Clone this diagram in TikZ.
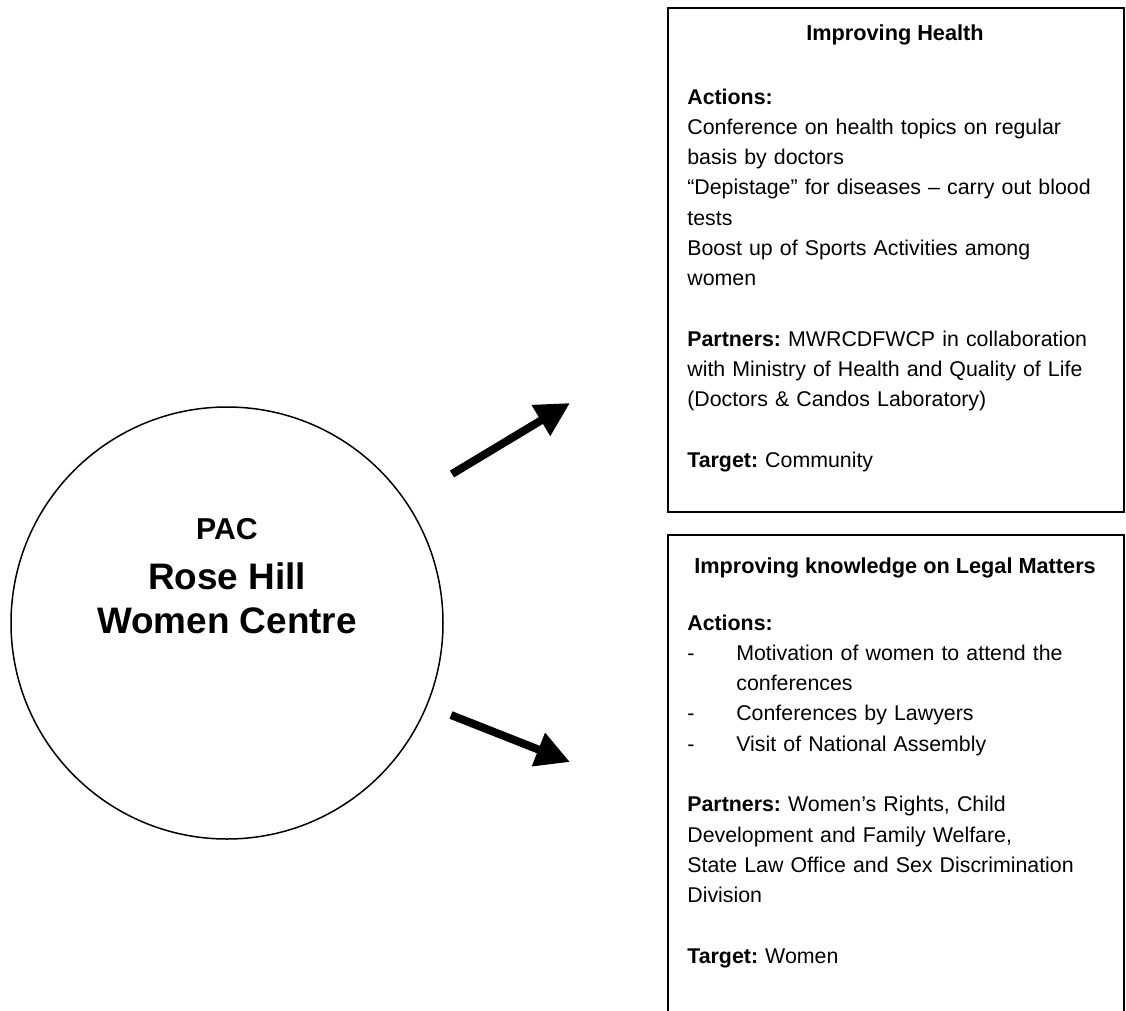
\documentclass[tikz,border=0pt]{standalone}
\usepackage{fontspec}
\setmainfont{Liberation Sans}
\usetikzlibrary{arrows.meta,positioning}

\frenchspacing
\newcommand\bodyfont{\fontsize{12.15pt}{17.24pt}\selectfont}

\begin{document}
\begin{tikzpicture}[x=0.02cm,y=-0.02cm,
    frame/.style={draw,line width=0.04cm,rectangle,inner sep=0pt,anchor=north west},
    body/.style={anchor=base west,inner sep=0pt,align=left,text width=9cm,font=\bodyfont},
    heading/.style={anchor=base,inner sep=0pt,font=\fontsize{12.35pt}{17.24pt}\selectfont\bfseries},
    bigtext/.style={anchor=base,inner sep=0pt,font=\bfseries\fontsize{21pt}{25pt}\selectfont},
    fatarrow/.style={line width=0.16cm,-{Triangle[length=0.68cm,width=0.68cm]}}]
                    \useasboundingbox (0,0) rectangle (1126,1011);
                    \clip (0,0) rectangle (1126,1011);

                    % Marking the centre by circle
                    \draw [line width=0.03cm] (227,623) node [circle,minimum size=8.64cm,inner sep=0pt] (centre) {};%
                    \draw [line width=0.03cm] (centre.center) circle (216);%
                    \draw (227,539) node [bigtext,font=\bfseries\fontsize{17.2pt}{20pt}\selectfont] (pac) {PAC};%
                    \draw (227,589) node [bigtext] (rosehill) {Rose Hill};%
                    \draw (227,633) node [bigtext] (womencentre) {Women Centre};%

                    % Drawing box Improving Health
                    \node [frame,minimum width=9.12cm,minimum height=10.08cm] (healthbox) at (667,7) {};%
                    \draw (895,40) node [heading] (healthtitle) { Improving Health };%
                    \draw (687,104) node [body] (healthtext) {
                      \textbf{Actions:}\\
                      Conference on health topics on regular\\
                      basis by doctors\\
                      “Depistage” for diseases – carry out blood\\
                      tests\\
                      Boost up of Sports Activities among\\
                      women\\
                      \mbox{}\\
                      \textbf{Partners:} MWRCDFWCP in collaboration\\
                      with Ministry of Health and Quality of Life\\
                      (Doctors \& Candos Laboratory)\\
                      \mbox{}\\
                      \textbf{Target:} Community};%

                    % Drawing box Improving knowledge on Legal Matters
                    \node [frame,minimum width=9.12cm,minimum height=10.4cm] (legalbox) at (667,534) {};%
                    \draw (895,573) node [heading] (legaltitle) { Improving knowledge on Legal Matters };%
                    \draw (687,630) node [body] (legaltext) {
                      \textbf{Actions:}\\
                      \makebox[0.98cm][l]{-}Motivation of women to attend the\\
                      \hspace*{0.98cm}conferences\\
                      \makebox[0.98cm][l]{-}Conferences by Lawyers\\
                      \makebox[0.98cm][l]{-}Visit of National Assembly\\
                      \mbox{}\\
                      \textbf{Partners:} Women’s Rights, Child\\
                      Development and Family Welfare,\\
                      State Law Office and Sex Discrimination\\
                      Division\\
                      \mbox{}\\
                      \textbf{Target:} Women};%

                    % Drawing arrow centre healthbox
                    \coordinate (healthtail) at (452,474);%
                    \coordinate (healthtip) at (570,403);%
                    \draw [fatarrow] (healthtail) -- (healthtip);%

                    % Drawing arrow centre legalbox
                    \coordinate (legaltail) at (451,715);%
                    \coordinate (legaltip) at (570,762);%
                    \draw [fatarrow] (legaltail) -- (legaltip);%
\end{tikzpicture}
\end{document}
